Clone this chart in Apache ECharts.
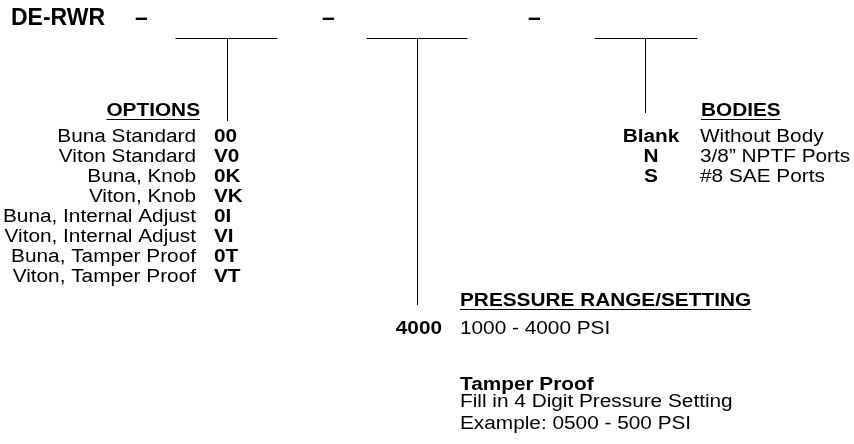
<!DOCTYPE html>
<html>
<head>
<meta charset="utf-8">
<script src="https://cdn.jsdelivr.net/npm/echarts@6/dist/echarts.min.js"></script>
<style>
html,body{margin:0;padding:0;background:#fff;}
#chart{width:854px;height:444px;}
</style>
</head>
<body>
<div id="chart"></div>
<script>
// ---- content ----
const modelPrefix = 'DE-RWR';
const separator = '\u2013';
const optionsTitle = 'OPTIONS';
const optionLabels = ['Buna Standard','Viton Standard','Buna, Knob','Viton, Knob','Buna, Internal Adjust','Viton, Internal Adjust','Buna, Tamper Proof','Viton, Tamper Proof'];
const optionCodes = ['00','V0','0K','VK','0I','VI','0T','VT'];
const pressureTitle = 'PRESSURE RANGE/SETTING';
const pressureCodes = ['4000'];
const pressureLabels = ['1000 - 4000 PSI'];
const tamperTitle = 'Tamper Proof';
const tamperNotes = ['Fill in 4 Digit Pressure Setting','Example: 0500 - 500 PSI'];
const bodiesTitle = 'BODIES';
const bodyCodes = ['Blank','N','S'];
const bodyLabels = ['Without Body','3/8\u201d NPTF Ports','#8 SAE Ports'];

// ---- layout ----
const FONT = "'Liberation Sans', Arial, Helvetica, sans-serif";
const SZ = 18, TSZ = 23;
const SX = 1.155;           // horizontal stretch of the body text
const K = 0.347;
const measureCtx = document.createElement('canvas').getContext('2d');
function fontStr(size, bold){ return (bold ? 'bold ' : '') + size + 'px ' + FONT; }
function textWidth(t, size, bold, sx){ measureCtx.font = fontStr(size, bold); return measureCtx.measureText(t).width * sx; }

const els = [];
function txt(t, x, base, o){
  o = o || {};
  const size = o.size || SZ;
  const sx = o.sx || SX;
  els.push({
    type:'text', x:x, y: base - K*size, scaleX:sx, scaleY:1, silent:true,
    style:{ text:t, fill:'#000', fontSize:size, fontFamily:FONT, fontWeight:o.bold?'bold':'normal',
            textAlign:o.align||'left', textVerticalAlign:'middle' }
  });
}
function line(x1,y1,x2,y2){
  els.push({type:'line', silent:true, shape:{x1:x1,y1:y1,x2:x2,y2:y2}, style:{stroke:'#000', lineWidth:1}});
}
function heading(t, x, base, align){
  txt(t, x, base, {bold:true, align:align});
  const w = textWidth(t, SZ, true, SX);
  const left = align === 'right' ? x - w : x;
  line(left, base + 2.5, left + w, base + 2.5);
}

// header
txt(modelPrefix, 11, 27, {bold:true, size:TSZ, sx:1});
const dashX = [135, 322, 528];
dashX.forEach(x => txt(separator, x, 27, {bold:true, size:TSZ, sx:1}));

// blanks with leaders
const blanks = [[175,277,227,121],[366,467,417,305],[594,697,645,113]];
blanks.forEach(b => { line(b[0]+0.5,38.5,b[1]+0.5,38.5); line(b[2]+0.5,38.5,b[2]+0.5,b[3]); });

// options
heading(optionsTitle, 200, 117, 'right');
optionLabels.forEach((l,i) => {
  txt(l, 196, 143 + i*20, {align:'right'});
  txt(optionCodes[i], 214, 143 + i*20, {bold:true});
});

// bodies
heading(bodiesTitle, 701, 117, 'left');
bodyCodes.forEach((c,i) => {
  txt(c, 651, 143 + i*20, {bold:true, align:'center'});
  txt(bodyLabels[i], 700, 143 + i*20);
});

// pressure
heading(pressureTitle, 460, 307, 'left');
pressureCodes.forEach((c,i) => {
  txt(c, 442, 335 + i*20, {bold:true, align:'right'});
  txt(pressureLabels[i], 460, 335 + i*20);
});
txt(tamperTitle, 460, 391, {bold:true});
tamperNotes.forEach((n,i) => txt(n, 460, 408 + i*22));

const chart = echarts.init(document.getElementById('chart'), null, {renderer:'canvas'});
chart.setOption({
  backgroundColor:'#fff',
  animation:false,
  graphic:{ elements: els }
});
</script>
</body>
</html>
